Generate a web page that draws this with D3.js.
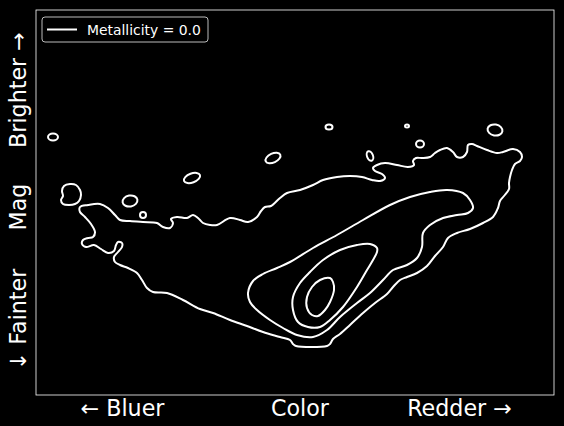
<!DOCTYPE html>
<html><head><meta charset="utf-8">
<script src="https://cdn.jsdelivr.net/npm/d3@7"></script>
<style>html,body{margin:0;padding:0;background:#000;}svg{display:block;}</style>
</head><body>
<svg id="chart" width="564" height="426"></svg>
<script>
// Axis domains (arbitrary colour / magnitude units, brighter upward)
const colorDomain = [0, 518];
const magDomain = [0, 385];

// Tick labels and their positions
const xTickLabels = ["\u2190 Bluer", "Color", "Redder \u2192"];
const xTickValues = [86.5, 264, 423.5];
const yTickLabels = ["\u2193 Fainter", "Mag", "Brighter \u2192"];
const yTickValues = [75.5, 188, 305];

const legendLabel = "Metallicity = 0.0";

// Density contour levels (outer -> inner), points as [colour, mag]
const contourOuter = [[44,188],[52,190],[64,191],[72,187],[79,180],[84,175],[94,174],[107,173],[121,172],[127,168],[134,167],[137,172],[135,176],[141,178],[151,177],[157,180],[162,177],[167,172],[174,170],[181,170],[194,177],[204,175],[212,173],[221,178],[225,184],[229,188],[235,189],[244,197],[251,202],[264,205],[277,210],[287,215],[301,218],[314,219],[326,218],[336,215],[344,214],[349,217],[346,221],[339,224],[337,227],[341,230],[349,232],[361,230],[372,228],[378,230],[377,234],[380,237],[386,237],[394,238],[399,242],[404,245],[411,247],[417,243],[421,238],[427,238],[431,243],[432,250],[436,251],[441,249],[451,245],[461,242],[467,243],[477,246],[484,243],[486,238],[484,234],[479,231],[476,225],[474,218],[473,212],[473,206],[468,199],[464,194],[462,187],[457,178],[447,172],[434,166],[421,162],[412,157],[407,148],[399,139],[391,129],[381,122],[371,118],[364,115],[357,108],[351,101],[339,92],[327,82],[314,70],[304,61],[297,56],[294,51],[291,49],[260,49],[257,51],[254,55],[244,58],[227,63],[211,69],[194,75],[177,82],[164,86],[147,95],[131,102],[117,103],[111,107],[106,115],[101,122],[92,127],[84,130],[79,133],[78,138],[82,143],[86,148],[86,152],[82,153],[80,150],[78,144],[72,142],[65,146],[58,150],[50,148],[46,151],[47,155],[52,157],[57,158],[59,163],[55,171],[49,178],[44,183]];
const contourSecond = [[212,102],[217,114],[227,121],[241,127],[254,133],[277,147],[301,160],[327,175],[354,190],[374,198],[394,203],[411,205],[427,202],[434,195],[437,187],[432,182],[421,180],[407,177],[394,170],[387,162],[386,148],[381,137],[371,130],[357,125],[347,115],[334,102],[321,92],[304,78],[291,65],[277,58],[261,60],[247,67],[234,75],[221,85],[214,93]];
const contourThird = [[341,147],[334,151],[321,150],[304,145],[287,135],[274,123],[264,112],[257,98],[257,85],[262,73],[272,68],[284,68],[294,75],[307,88],[321,108],[331,125],[337,135],[341,143]];
const contourInner = [[294,117],[284,115],[276,108],[271,98],[271,87],[276,80],[282,79],[289,85],[294,93],[298,105],[297,113]];
const contourBlob = [[34,211],[40,210],[44,205],[45,200],[43,194],[39,191],[33,190],[27,191],[25,195],[27,199],[26,204],[28,209]];

// Small isolated outer-level islands: centre colour, centre mag, radii, tilt
const islandColor = [17, 94, 107, 156, 237, 293, 371, 384, 334, 459];
const islandMag   = [258, 194, 180, 217, 237, 268, 269, 251, 239, 265];
const islandRx    = [5, 7.5, 3, 8.5, 8, 3.5, 2, 4, 3, 7.5];
const islandRy    = [3.5, 5.5, 3, 4.5, 4.5, 2.5, 1.5, 3.5, 5, 5.5];
const islandTilt  = [0, -10, 0, -20, -25, 0, 0, 0, -20, 10];

const svg = d3.select("#chart");
const W = 564, H = 426;
const x = d3.scaleLinear().domain(colorDomain).range([36, 554]);
const y = d3.scaleLinear().domain(magDomain).range([395, 10]);

svg.append("rect").attr("width", W).attr("height", H).attr("fill", "#000");

const line = d3.line().x(d => x(d[0])).y(d => y(d[1])).curve(d3.curveCatmullRomClosed.alpha(0.5));

const g = svg.append("g");
[contourOuter, contourSecond, contourThird, contourInner, contourBlob].forEach(c => {
  g.append("path").attr("d", line(c)).attr("fill", "none").attr("stroke", "#fff").attr("stroke-width", 2);
});

islandColor.forEach((c, i) => {
  const cx = x(c), cy = y(islandMag[i]);
  g.append("ellipse")
    .attr("cx", cx).attr("cy", cy)
    .attr("rx", x(c + islandRx[i]) - cx)
    .attr("ry", y(islandMag[i]) - y(islandMag[i] + islandRy[i]))
    .attr("transform", `rotate(${islandTilt[i]},${cx},${cy})`)
    .attr("fill", "none").attr("stroke", "#fff").attr("stroke-width", 2);
});

// Frame
svg.append("rect").attr("x", x(colorDomain[0])).attr("y", y(magDomain[1]))
  .attr("width", x(colorDomain[1]) - x(colorDomain[0]))
  .attr("height", y(magDomain[0]) - y(magDomain[1]))
  .attr("fill", "none").attr("stroke", "#fff").attr("stroke-width", 0.8);

// Tick labels
const font = "DejaVu Sans";
svg.append("g").selectAll("text").data(xTickLabels).join("text")
  .attr("x", (d, i) => x(xTickValues[i])).attr("y", 416)
  .attr("text-anchor", "middle").attr("fill", "#fff")
  .attr("font-family", font).attr("font-size", 22.2).text(d => d);

svg.append("g").selectAll("text").data(yTickLabels).join("text")
  .attr("transform", (d, i) => `translate(25.5,${y(yTickValues[i])}) rotate(-90)`)
  .attr("text-anchor", "middle").attr("fill", "#fff")
  .attr("font-family", font).attr("font-size", 22.2).text(d => d);

// Legend
const lg = svg.append("g");
lg.append("rect").attr("x", 42).attr("y", 17).attr("width", 166).attr("height", 25).attr("rx", 3)
  .attr("fill", "#000").attr("fill-opacity", 0.8).attr("stroke", "#bbb").attr("stroke-width", 1);
lg.append("line").attr("x1", 47).attr("x2", 77).attr("y1", 29.5).attr("y2", 29.5)
  .attr("stroke", "#fff").attr("stroke-width", 2);
lg.append("text").attr("x", 87).attr("y", 34.5).attr("fill", "#fff")
  .attr("font-family", font).attr("font-size", 13.9).text(legendLabel);
</script>
</body></html>
